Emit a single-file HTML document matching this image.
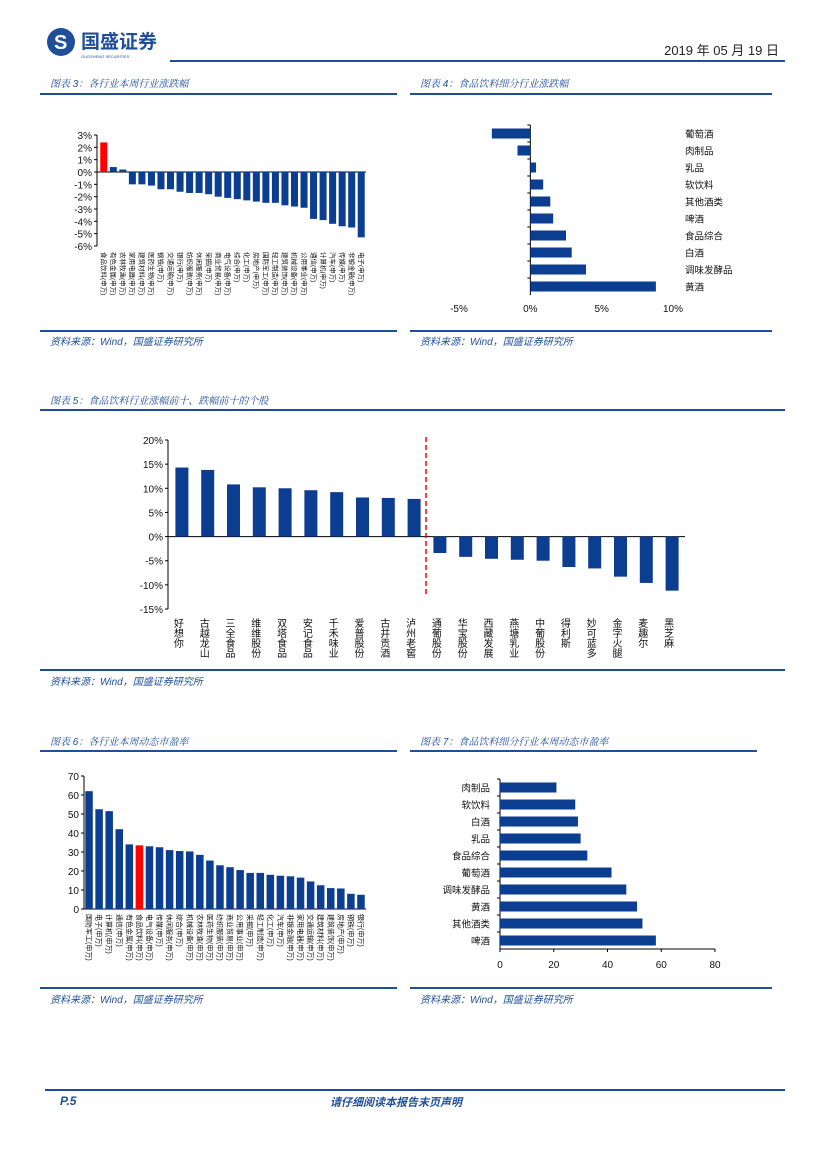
<!DOCTYPE html>
<html><head><meta charset="utf-8">
<style>
html,body{margin:0;padding:0;background:#fff;}
body{width:827px;height:1169px;position:relative;overflow:hidden;font-family:"Liberation Sans","Noto Sans CJK SC",sans-serif;}
.abs{position:absolute;}
.cap{position:absolute;font-size:10px;color:#1f4e9a;font-style:italic;font-family:"Liberation Sans","Noto Serif CJK SC",serif;}
.rule{position:absolute;background:#1f4e9a;height:2px;}
.src{position:absolute;font-size:10px;color:#1f4e9a;font-style:italic;}
svg text{font-family:"Liberation Sans","Noto Sans CJK SC",sans-serif;}
</style></head><body>
<div class="abs" style="left:45px;top:26px;width:130px;height:34px;">
 <svg width="130" height="34"><circle cx="16" cy="16" r="14" fill="#1f4e9a"/><text x="9" y="23" font-size="20" fill="#fff" font-weight="bold">S</text>
 <text x="36" y="22" font-size="19" font-weight="bold" fill="#1f4e9a">国盛证券</text><text x="36" y="32" font-size="4" fill="#1f4e9a">GUOSHENG SECURITIES</text></svg>
</div>
<div class="rule" style="left:170px;top:60px;width:615px;"></div>
<div class="abs" style="right:48px;top:40px;font-size:13px;color:#222;">2019 年 05 月 19 日</div>

<div class="cap" style="left:50px;top:75px;">图表 3：各行业本周行业涨跌幅</div>
<div class="rule" style="left:40px;top:93px;width:357px;"></div>
<div class="cap" style="left:420px;top:75px;">图表 4：食品饮料细分行业涨跌幅</div>
<div class="rule" style="left:410px;top:93px;width:362px;"></div>
<div class="rule" style="left:40px;top:330px;width:357px;"></div>
<div class="src" style="left:50px;top:333px;">资料来源：Wind，国盛证券研究所</div>
<div class="rule" style="left:410px;top:330px;width:362px;"></div>
<div class="src" style="left:420px;top:333px;">资料来源：Wind，国盛证券研究所</div>

<div class="cap" style="left:50px;top:392px;">图表 5：食品饮料行业涨幅前十、跌幅前十的个股</div>
<div class="rule" style="left:40px;top:409px;width:745px;"></div>
<div class="rule" style="left:40px;top:669px;width:745px;"></div>
<div class="src" style="left:50px;top:673px;">资料来源：Wind，国盛证券研究所</div>

<div class="cap" style="left:50px;top:733px;">图表 6：各行业本周动态市盈率</div>
<div class="rule" style="left:40px;top:750px;width:357px;"></div>
<div class="cap" style="left:420px;top:733px;">图表 7：食品饮料细分行业本周动态市盈率</div>
<div class="rule" style="left:410px;top:750px;width:347px;"></div>
<div class="rule" style="left:40px;top:987px;width:357px;"></div>
<div class="src" style="left:50px;top:991px;">资料来源：Wind，国盛证券研究所</div>
<div class="rule" style="left:410px;top:987px;width:362px;"></div>
<div class="src" style="left:420px;top:991px;">资料来源：Wind，国盛证券研究所</div>

<div class="rule" style="left:45px;top:1089px;width:740px;"></div>
<div class="abs" style="left:60px;top:1094px;font-size:12px;font-weight:bold;font-style:italic;color:#1f4e9a;">P.5</div>
<div class="abs" style="left:330px;top:1094px;font-size:11px;font-weight:bold;font-style:italic;color:#1f4e9a;">请仔细阅读本报告末页声明</div>

<svg id="charts" class="abs" style="left:0;top:0;" width="827" height="1169"></svg>

<script>
const c3Cats=["食品饮料","有色金属","农林牧渔","家用电器","建筑材料","医药生物","钢铁","交通运输","银行","纺织服装","休闲服务","采掘","商业贸易","电气设备","综合","化工","房地产","国防军工","轻工制造","建筑装饰","机械设备","公用事业","通信","计算机","汽车","传媒","非银金融","电子"];
const c3Vals=[2.4,0.4,0.2,-1.0,-1.0,-1.1,-1.4,-1.4,-1.6,-1.7,-1.7,-1.8,-2.0,-2.1,-2.2,-2.3,-2.4,-2.5,-2.5,-2.7,-2.8,-2.9,-3.8,-3.9,-4.2,-4.4,-4.5,-5.3];
const c3Ticks=[3,2,1,0,-1,-2,-3,-4,-5,-6];
const c4Cats=["葡萄酒","肉制品","乳品","软饮料","其他酒类","啤酒","食品综合","白酒","调味发酵品","黄酒"];
const c4Vals=[-2.7,-0.9,0.4,0.9,1.4,1.6,2.5,2.9,3.9,8.8];
const c4Ticks=[-5,0,5,10];
const c5Cats=["好想你","古越龙山","三全食品","维维股份","双塔食品","安记食品","千禾味业","爱普股份","古井贡酒","泸州老窖","通葡股份","华宝股份","西藏发展","燕塘乳业","中葡股份","得利斯","妙可蓝多","金字火腿","麦趣尔","黑芝麻"];
const c5Vals=[14.3,13.8,10.8,10.2,10.0,9.6,9.2,8.1,8.0,7.8,-3.4,-4.2,-4.6,-4.8,-5.0,-6.3,-6.6,-8.3,-9.6,-11.2];
const c5Ticks=[20,15,10,5,0,-5,-10,-15];
const c6Cats=["国防军工","电子","计算机","通信","有色金属","食品饮料","电气设备","传媒","休闲服务","综合","机械设备","农林牧渔","医药生物","纺织服装","商业贸易","公用事业","采掘","轻工制造","化工","汽车","非银金融","家用电器","交通运输","建筑材料","建筑装饰","房地产","钢铁","银行"];
const c6Vals=[62,52.5,51.5,42,34,33.5,33,32.5,31,30.5,30.3,28.5,25.5,23,22,20.5,19,19,18,17.5,17.2,16.5,14.5,12.5,11,10.8,8,7.5];
const c6Ticks=[0,10,20,30,40,50,60,70];
const c7Cats=["肉制品","软饮料","白酒","乳品","食品综合","葡萄酒","调味发酵品","黄酒","其他酒类","啤酒"];
const c7Vals=[21,28,29,30,32.5,41.5,47,51,53,58];
const c7Ticks=[0,20,40,60,80];

const NS="http://www.w3.org/2000/svg";
const svg=document.getElementById("charts");
const BLUE="#0b3d91",RED="#ff0000";
function mk(tag,attrs,parent){const e=document.createElementNS(NS,tag);for(const k in attrs)e.setAttribute(k,attrs[k]);(parent||svg).appendChild(e);return e;}
function txt(x,y,s,size,anchor,parent){const t=mk("text",{x:x,y:y,"font-size":size,"text-anchor":anchor||"start",fill:"#111"},parent);t.textContent=s;return t;}
function vtext(x,y,s,size,parent){const t=mk("text",{x:x,y:y,"font-size":size,fill:"#111","writing-mode":"tb","glyph-orientation-vertical":"0"},parent);t.textContent=s;return t;}
function rtext(x,y,s,size,parent){const t=mk("text",{x:0,y:0,"font-size":size,fill:"#111",transform:"translate("+x+","+y+") rotate(90)"},parent);t.textContent=s;return t;}

function vChart(o){
  const g=mk("g",{});
  
  
  const y=v=>o.y0+(o.vmax-v)*(o.y1-o.y0)/(o.vmax-o.vmin);
  const step=(o.xr-o.xl)/o.cats.length;
  mk("line",{x1:o.ax,y1:y(o.vmax),x2:o.ax,y2:y(o.vmin),stroke:"#000","stroke-width":1},g);
  o.ticks.forEach(t=>{
    mk("line",{x1:o.ax-3,y1:y(t),x2:o.ax,y2:y(t),stroke:"#000"},g);
    const lb=txt(o.ax-5,y(t)+4,o.fmt(t),o.tfs,"end",g);
    
    
  });
  mk("line",{x1:o.ax,y1:y(0),x2:o.xr,y2:y(0),stroke:"#000"},g);
  o.cats.forEach((c,i)=>{
    const v=o.vals[i],cx=o.xl+step*(i+0.5);
    const r=mk("rect",{x:cx-o.bw/2,y:Math.min(y(v),y(0)),width:o.bw,height:Math.abs(y(v)-y(0)),fill:(o.red===i?RED:BLUE)},g);
    
    
    const lb=o.rotate?rtext(cx-o.lfs/2+1,o.ly,c+(o.suffix||""),o.lfs,g):vtext(cx-o.lfs/2,o.ly,c,o.lfs,g);
    
    
  });
  return {g,y,step};
}
function hChart(o){
  const g=mk("g",{});
  
  
  const x=v=>o.x0+(v-o.vmin)*(o.x1-o.x0)/(o.vmax-o.vmin);
  const step=(o.yb-o.yt)/o.cats.length;
  mk("line",{x1:x(0),y1:o.yt,x2:x(0),y2:o.yb,stroke:"#000"},g);
  if(o.axisLine) mk("line",{x1:x(o.vmin),y1:o.yb,x2:x(o.vmax),y2:o.yb,stroke:"#000"},g);
  o.ticks.forEach(t=>{
    const lb=txt(x(t),o.tly,o.fmt(t),o.tfs,"middle",g);
    
    
    if(o.axisLine) mk("line",{x1:x(t),y1:o.yb,x2:x(t),y2:o.yb+3,stroke:"#000"},g);
  });
  o.cats.forEach((c,i)=>{
    const v=o.vals[i],cy=o.yt+step*(i+0.5);
    const r=mk("rect",{x:Math.min(x(v),x(0)),y:cy-o.bh/2,width:Math.abs(x(v)-x(0)),height:o.bh,fill:BLUE},g);
    
    
    mk("line",{x1:x(0)-3,y1:o.yt+step*i,x2:x(0),y2:o.yt+step*i,stroke:"#000"},g);
    const lb=o.labelLeft?txt(o.lx,cy+4,c,o.lfs,"end",g):txt(o.lx,cy+4,c,o.lfs,"start",g);
    
    
  });
}

vChart({name:"chart3-industry-weekly-change",cats:c3Cats,vals:c3Vals,ticks:c3Ticks,vmax:3,vmin:-6,y0:135,y1:246,ax:97,xl:99,xr:366,bw:7,red:0,tfs:10,lfs:6.5,ly:252,rotate:true,suffix:"(申万)",fmt:t=>t+"%"});
hChart({name:"chart4-subsector-change",cats:c4Cats,vals:c4Vals,ticks:c4Ticks,vmin:-5,vmax:10,x0:459,x1:673,yt:125,yb:295,bh:10,tly:312,tfs:10,lx:685,lfs:9.5,fmt:t=>t+"%"});
vChart({name:"chart5-top-bottom-stocks",cats:c5Cats,vals:c5Vals,ticks:c5Ticks,vmax:20,vmin:-15,y0:440,y1:609,ax:168,xl:169,xr:685,bw:13,tfs:10,lfs:10,ly:618,fmt:t=>t+"%"});
const dl=mk("line",{x1:426,y1:437,x2:426,y2:594,stroke:RED,"stroke-width":1.5,"stroke-dasharray":"5,3"});


vChart({name:"chart6-industry-pe",cats:c6Cats,vals:c6Vals,ticks:c6Ticks,vmax:70,vmin:0,y0:776,y1:909,ax:84,xl:84,xr:366,bw:7.5,red:5,tfs:10,lfs:7,ly:914,rotate:true,suffix:"(申万)",fmt:t=>String(t)});
hChart({name:"chart7-subsector-pe",cats:c7Cats,vals:c7Vals,ticks:c7Ticks,vmin:0,vmax:80,x0:500,x1:715,yt:779,yb:949,bh:10,tly:968,tfs:10,lx:490,lfs:9.5,labelLeft:true,axisLine:true,fmt:t=>String(t)});
</script>
</body></html>
